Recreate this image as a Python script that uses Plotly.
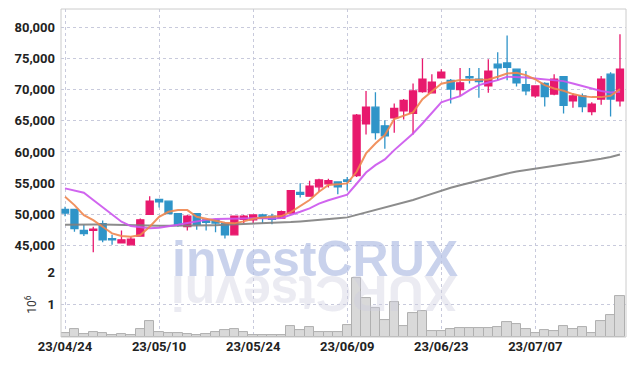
import plotly.graph_objects as go
from plotly.subplots import make_subplots

dates = ["23/04/24", "23/04/25", "23/04/26", "23/04/27", "23/04/28",
         "23/05/02", "23/05/03", "23/05/04", "23/05/08", "23/05/09",
         "23/05/10", "23/05/11", "23/05/12", "23/05/15", "23/05/16",
         "23/05/17", "23/05/18", "23/05/19", "23/05/22", "23/05/23",
         "23/05/24", "23/05/25", "23/05/26", "23/05/30", "23/05/31",
         "23/06/01", "23/06/02", "23/06/05", "23/06/07", "23/06/08",
         "23/06/09", "23/06/12", "23/06/13", "23/06/14", "23/06/15",
         "23/06/16", "23/06/19", "23/06/20", "23/06/21", "23/06/22",
         "23/06/23", "23/06/26", "23/06/27", "23/06/28", "23/06/29",
         "23/06/30", "23/07/03", "23/07/04", "23/07/05", "23/07/06",
         "23/07/07", "23/07/10", "23/07/11", "23/07/12", "23/07/13",
         "23/07/14", "23/07/17", "23/07/18", "23/07/19", "23/07/20"]

opens = [50800, 50800, 47400, 47400, 48500, 46100, 45400, 45100, 46500, 50000,
         52400, 52100, 50100, 48000, 50100, 49100, 49100, 48500, 46700, 49200,
         49100, 49900, 49700, 49400, 50200, 53500, 52900, 54400, 54900, 55200,
         55500, 56200, 64500, 67200, 64200, 65500, 66600, 66200, 69700, 69500,
         71900, 71500, 70000, 72100, 71700, 70600, 74100, 74300, 73300, 70800,
         69000, 71000, 69300, 72100, 68200, 69000, 66500, 68500, 72500, 68200]
highs = [51200, 50900, 48300, 48000, 49000, 46700, 47400, 46400, 49300, 52900,
         52500, 52200, 50200, 49900, 50200, 49200, 49100, 48700, 49800, 49900,
         50000, 50100, 50100, 50600, 53900, 55000, 55400, 55700, 55700, 55300,
         56000, 66100, 69800, 69600, 65100, 67800, 68500, 71000, 75000, 72500,
         73300, 71700, 73500, 73500, 73500, 74900, 76000, 78700, 73400, 73000,
         70700, 71200, 72500, 72100, 69400, 69400, 68000, 72200, 72800, 78900]
lows = [49700, 47200, 46500, 43900, 45500, 45100, 45400, 45100, 46400, 49900,
        51100, 50000, 48000, 47400, 47500, 47400, 47100, 46100, 46700, 48600,
        48600, 48600, 48400, 49300, 50100, 52700, 52800, 53600, 54300, 53200,
        53800, 56000, 62800, 62000, 60500, 63100, 65200, 62800, 69500, 69400,
        71800, 67800, 69000, 71000, 68700, 69500, 71500, 71500, 70500, 69100,
        68700, 67300, 69100, 66200, 67100, 66400, 65900, 67600, 65700, 67300]
closes = [50200, 47700, 46900, 47600, 45900, 45900, 45900, 46000, 49100, 52100,
          52000, 50100, 48200, 49700, 48400, 48700, 48600, 46700, 49700, 49700,
          49900, 49400, 49200, 50400, 53800, 53200, 54500, 55500, 55400, 54400,
          55300, 65900, 67200, 63100, 62600, 67000, 68300, 69800, 71700, 71200,
          72800, 70100, 71100, 71900, 71300, 73000, 73500, 73600, 71100, 69800,
          70600, 68900, 71700, 67500, 69000, 67300, 67700, 71700, 68500, 73300]

ma5 = [52810, 51470, 49870, 49070, 48000, 46930, 46500, 46400, 46660, 48000,
       49600, 50400, 50670, 50670, 49600, 49340, 48960, 48640, 48540, 48860,
       49280, 49500, 49600, 49710, 50350, 51320, 52280, 53610, 54690, 54800,
       54960, 56820, 59770, 61370, 62710, 65280, 65810, 66350, 68490, 69780,
       70950, 71280, 71540, 71540, 71540, 71650, 72080, 72610, 72720, 72350,
       71650, 70740, 70200, 69830, 69300, 68970, 68810, 68810, 69030, 70100]
ma20 = [54160, 53800, 53450, 52280, 51100, 49870, 48800, 48100, 47900, 47750,
        47850, 48050, 48300, 48600, 48900, 49100, 49250, 49300, 49350, 49350,
        49350, 49350, 49300, 49400, 49870, 50400, 50950, 51700, 52250, 52650,
        53150, 54900, 56700, 57890, 58800, 60300, 61640, 62980, 64580, 66190,
        67960, 68490, 68970, 69940, 70740, 71170, 71540, 72080, 72080, 71970,
        71810, 71700, 71540, 71380, 71000, 70580, 70100, 69780, 69560, 69670]
ma60 = [48300, 48350, 48350, 48350, 48350, 48300, 48250, 48200, 48150, 48150,
        48150, 48150, 48150, 48150, 48150, 48200, 48250, 48300, 48350, 48400,
        48450, 48500, 48550, 48650, 48750, 48850, 48950, 49050, 49200, 49350,
        49500, 49900, 50300, 50600, 51000, 51400, 51800, 52300, 52800, 53300,
        53800, 54250, 54650, 55050, 55450, 55850, 56200, 56550, 56850, 57100,
        57350, 57600, 57800, 58050, 58250, 58450, 58650, 58900, 59200, 59600]

volumes = [120000, 250000, 100000, 155000, 120000, 60000, 90000, 60000, 250000, 500000,
           165000, 120000, 120000, 90000, 60000, 90000, 160000, 220000, 250000, 160000,
           60000, 60000, 60000, 60000, 340000, 200000, 310000, 155000, 155000, 155000,
           370000, 1830000, 1210000, 900000, 530000, 1080000, 340000, 740000, 800000, 190000,
           190000, 230000, 280000, 280000, 280000, 280000, 310000, 460000, 400000, 250000,
           120000, 220000, 190000, 340000, 250000, 310000, 120000, 500000, 680000, 1270000]

price_ticks = [45000, 50000, 55000, 60000, 65000, 70000, 75000, 80000]
vol_ticks = [1000000, 2000000]
vol_tick_text = ["1", "2"]
date_ticks = dates[::10]

UP = "#e8196d"
DOWN = "#2f94c8"
GRID = "#c8cadc"
TICKFONT = dict(family="Roboto, Liberation Sans, sans-serif", size=13, color="#222222", weight="bold")
WMFONT = "Liberation Sans, Arial, sans-serif"

fig = make_subplots(rows=2, cols=1, shared_xaxes=True, vertical_spacing=0,
                    row_heights=[0.802, 0.198])

fig.add_trace(go.Bar(x=dates, y=volumes,
                     marker=dict(color="#d9d9d9", line=dict(color="#b0b0b0", width=1)),
                     showlegend=False, hoverinfo="skip"), row=2, col=1)

fig.add_trace(go.Candlestick(x=dates, open=opens, high=highs, low=lows, close=closes,
                             increasing=dict(line=dict(color=UP, width=1.3), fillcolor=UP),
                             decreasing=dict(line=dict(color=DOWN, width=1.3), fillcolor=DOWN),
                             whiskerwidth=0, showlegend=False), row=1, col=1)

for series, color in [(ma60, "#808080"), (ma20, "#cc55ee"), (ma5, "#f0874f")]:
    fig.add_trace(go.Scatter(x=dates, y=series, mode="lines",
                             line=dict(color=color, width=2), opacity=0.9,
                             showlegend=False), row=1, col=1)

axis_common = dict(type="category", range=[-0.43, 59.64], tickvals=date_ticks,
                   showgrid=True, gridcolor=GRID, griddash="dot", gridwidth=1,
                   showline=False, zeroline=False, ticks="", automargin=False)

fig.update_xaxes(**axis_common, rangeslider_visible=False, showticklabels=False, row=1, col=1)
fig.update_xaxes(**axis_common, showticklabels=True, tickfont=TICKFONT, row=2, col=1)

fig.update_yaxes(range=[40720, 82960], tickvals=price_ticks, tickformat=",",
                 showgrid=True, gridcolor=GRID, griddash="dot", zeroline=False,
                 tickfont=TICKFONT, ticklabelstandoff=5, automargin=False,
                 row=1, col=1)
fig.update_yaxes(range=[0, 2000000], tickvals=vol_ticks, ticktext=vol_tick_text,
                 showgrid=True, gridcolor=GRID, griddash="dot", zeroline=False,
                 tickfont=TICKFONT, ticklabelstandoff=5, automargin=False,
                 title=dict(text="10<sup>6</sup>",
                            font=dict(family="Roboto, sans-serif", size=12, color="#333333"),
                            standoff=8),
                 row=2, col=1)

fig.add_shape(type="rect", xref="paper", yref="paper", x0=0, y0=0, x1=1, y1=1,
              line=dict(color="#cccccc", width=1))

fig.add_annotation(text="<b>investCRUX</b>", xref="paper", yref="paper",
                   x=0.4487, y=0.2386, xanchor="center", yanchor="middle", showarrow=False,
                   font=dict(family=WMFONT, size=50, color="rgba(180,192,228,0.72)"))
fig.add_annotation(text="<b>XURCtsevni</b>", xref="paper", yref="paper", textangle=180,
                   x=0.4487, y=0.134, xanchor="center", yanchor="middle", showarrow=False,
                   font=dict(family=WMFONT, size=50, color="rgba(205,205,222,0.4)"))

fig.update_layout(width=634, height=366, margin=dict(l=61, r=8, t=9, b=29),
                  paper_bgcolor="white", plot_bgcolor="white", bargap=0,
                  boxgap=0.15, boxgroupgap=0.12, hovermode=False)

fig.write_html("out.html", config={"displayModeBar": False},
               post_script="document.body.style.margin='0';")
